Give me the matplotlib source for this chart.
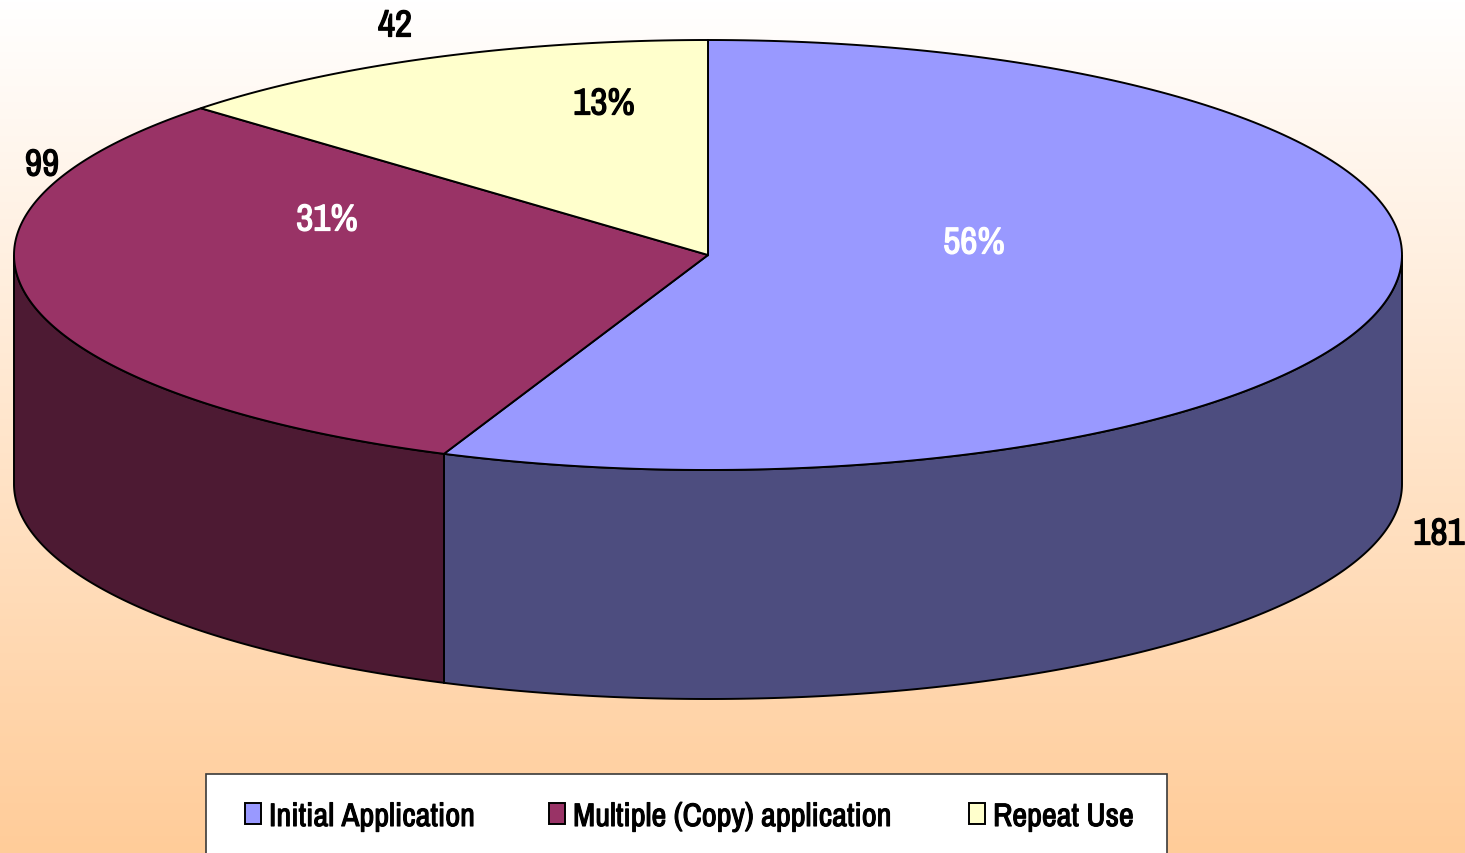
import numpy as np
import matplotlib
matplotlib.use("Agg")
import matplotlib.pyplot as plt
import matplotlib.patheffects as pe
from matplotlib import font_manager
from matplotlib.colors import LinearSegmentedColormap
from matplotlib.patches import Polygon, Rectangle

# =========================
# DATA
# =========================

CATEGORIES = ["Initial Application", "Multiple (Copy) application", "Repeat Use"]
VALUES = [181, 99, 42]
PERCENT_LABELS = ["56%", "31%", "13%"]

TOP_COLORS = ["#9999FF", "#993366", "#FFFFCC"]
SIDE_COLORS = ["#4D4D7F", "#4D1A33", "#80805F"]
PERCENT_COLORS = ["white", "white", "black"]

# =========================
# LAYOUT (pixels)
# =========================

W, H = 1465, 854
CX, CY = 708, 256
RX, RY = 694, 215
DEPTH = 229

PERCENT_POS = [(974, 244), (327, 221), (604, 105)]
VALUE_POS = [(1439, 535), (42, 166), (395, 27)]
LEGEND_SWATCH_X = [245, 549, 969]
LEGEND_TEXT_X = [269, 573, 993]

# narrow look of the original, falls back to the plain sans if not there
installed = {f.name for f in font_manager.fontManager.ttflist}
FONT = [n for n in ["Archivo Narrow", "Liberation Sans"] if n in installed]
FONT = FONT[:1] + ["DejaVu Sans"]
LABEL_SIZE = 27
LEGEND_SIZE = 23.4


def fake_bold(color, width=0.9):
    # the narrow font only comes in one weight here
    return [pe.withStroke(linewidth=width, foreground=color)]


def ellipse_points(t0, t1, n=200, dy=0):
    # t is measured clockwise from 12 o'clock, in degrees
    t = np.radians(np.linspace(t0, t1, n))
    return np.column_stack([CX + RX * np.sin(t), CY - RY * np.cos(t) + dy])


fig = plt.figure(figsize=(W / 100, H / 100), dpi=100)
ax = fig.add_axes([0, 0, 1, 1])
ax.set_xlim(0, W)
ax.set_ylim(H, 0)
ax.axis("off")

# background gradient
cmap = LinearSegmentedColormap.from_list("bg", ["#FFFFFF", "#FFCC99"])
ax.imshow(np.linspace(0, 1, 256).reshape(-1, 1), cmap=cmap, extent=[0, W, H, 0],
          aspect="auto", zorder=0)

angles = np.concatenate([[0], np.cumsum(VALUES) / np.sum(VALUES) * 360])

# side walls, only the front half of the ellipse can be seen
for i in range(len(VALUES)):
    t0 = max(angles[i], 90)
    t1 = min(angles[i + 1], 270)
    if t1 <= t0:
        continue
    upper = ellipse_points(t0, t1)
    lower = ellipse_points(t0, t1, dy=DEPTH)
    ax.add_patch(Polygon(np.vstack([upper, lower[::-1]]), closed=True,
                         facecolor=SIDE_COLORS[i], edgecolor="black", linewidth=1.4, zorder=2))

# top slices
for i in range(len(VALUES)):
    pts = np.vstack([[CX, CY], ellipse_points(angles[i], angles[i + 1])])
    ax.add_patch(Polygon(pts, closed=True, facecolor=TOP_COLORS[i],
                         edgecolor="black", linewidth=1.4, zorder=3))

for label, color, (x, y) in zip(PERCENT_LABELS, PERCENT_COLORS, PERCENT_POS):
    ax.text(x, y, label, color=color, fontsize=LABEL_SIZE, family=FONT,
            ha="center", va="center", zorder=4, path_effects=fake_bold(color))

for value, (x, y) in zip(VALUES, VALUE_POS):
    ax.text(x, y, str(value), color="black", fontsize=LABEL_SIZE, family=FONT,
            ha="center", va="center", zorder=4, path_effects=fake_bold("black"))

# legend
ax.add_patch(Rectangle((206, 775), 961, 90, facecolor="white", edgecolor="#3a3a3a",
                       linewidth=1.2, zorder=4))
for name, color, sx, tx in zip(CATEGORIES, TOP_COLORS, LEGEND_SWATCH_X, LEGEND_TEXT_X):
    ax.add_patch(Rectangle((sx, 804), 16, 21, facecolor=color, edgecolor="black",
                           linewidth=1.4, zorder=5))
    ax.text(tx, 818, name, color="black", fontsize=LEGEND_SIZE, family=FONT,
            ha="left", va="center", zorder=5, path_effects=fake_bold("black", 0.8))

fig.savefig("out.png", dpi=100)
plt.close(fig)
